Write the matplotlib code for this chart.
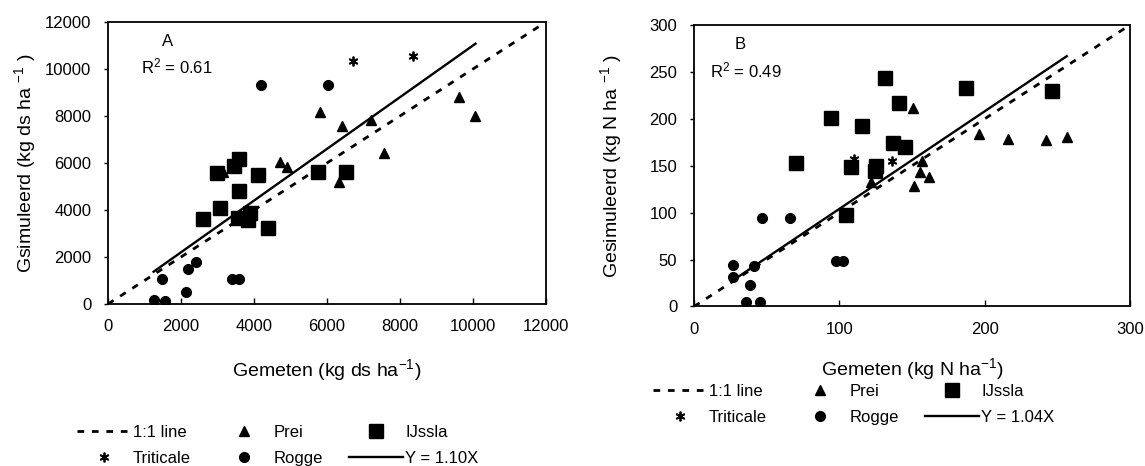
import numpy as np
import matplotlib
matplotlib.use("Agg")
import matplotlib.pyplot as plt

plt.rcParams['font.family'] = ['Liberation Sans', 'DejaVu Sans']
plt.rcParams['mathtext.fontset'] = 'custom'
plt.rcParams['mathtext.rm'] = 'Liberation Sans'
plt.rcParams['mathtext.default'] = 'regular'

# ---- panel A: dry matter (kg ds/ha) ----
a_prei_x = [5820, 6420, 7220, 7550, 4700, 4900, 6320, 9630, 10070, 3150]
a_prei_y = [8170, 7560, 7850, 6430, 6060, 5850, 5180, 8790, 8020, 5600]
a_ijssla_x = [3000, 3450, 3600, 4100, 3580, 3080, 2600, 3550, 3880, 3850, 4380, 5750, 6530]
a_ijssla_y = [5580, 5870, 6180, 5470, 4800, 4090, 3620, 3660, 3860, 3580, 3220, 5610, 5610]
a_trit_x = [6700, 8350]
a_trit_y = [10320, 10540]
a_rogge_x = [4200, 6030, 1470, 2200, 2420, 2130, 1250, 1570, 3400, 3580]
a_rogge_y = [9340, 9340, 1070, 1490, 1780, 530, 170, 140, 1070, 1070]
a_slope = 1.10
a_r2 = 0.61
a_lim = 12000

# ---- panel B: nitrogen (kg N/ha) ----
b_prei_x = [150.9, 157.1, 155.8, 162.0, 151.6, 121.8, 196.1, 216.2, 242.1, 256.5]
b_prei_y = [211.0, 154.8, 143.4, 138.1, 128.8, 132.7, 184.3, 179.0, 177.9, 180.8]
b_ijssla_x = [94.2, 115.6, 70.1, 107.9, 125.3, 124.8, 131.7, 141.4, 137.2, 145.4, 104.9, 187.4, 246.6]
b_ijssla_y = [201.4, 192.2, 153.4, 148.8, 149.5, 144.5, 243.1, 216.4, 174.7, 170.1, 97.2, 232.4, 229.9]
b_trit_x = [109.9, 136.0]
b_trit_y = [157.7, 154.8]
b_rogge_x = [46.5, 66.4, 27.1, 27.1, 41.0, 38.3, 35.8, 45.2, 97.4, 102.4]
b_rogge_y = [94.7, 94.7, 43.8, 31.3, 43.0, 22.4, 5.3, 5.3, 48.4, 48.4]
b_slope = 1.04
b_r2 = 0.49
b_lim = 300

star = (6, 2, 0)
dash = (0, (2.4, 2.8))


def panel(ax, prei_x, prei_y, ijs_x, ijs_y, tri_x, tri_y, rog_x, rog_y, slope, lim):
    one, = ax.plot([0, lim], [0, lim], color='black', lw=2, linestyle=dash, label='1:1 line')
    p, = ax.plot(prei_x, prei_y, linestyle='none', marker='^', ms=6.5, color='black', label='Prei')
    s, = ax.plot(ijs_x, ijs_y, linestyle='none', marker='s', ms=10.5, color='black', label='IJssla')
    t, = ax.plot(tri_x, tri_y, linestyle='none', marker=star, ms=7, mew=1.3, color='black', label='Triticale')
    r, = ax.plot(rog_x, rog_y, linestyle='none', marker='o', ms=7, color='black', label='Rogge')
    allx = np.concatenate([prei_x, ijs_x, tri_x, rog_x])
    xs = np.array([allx.min(), allx.max()])
    f, = ax.plot(xs, slope * xs, color='black', lw=1.7, label='Y = %.2fX' % slope)
    ax.set_xlim(0, lim)
    ax.set_ylim(0, lim)
    for sp in ax.spines.values():
        sp.set_linewidth(1.3)
    ax.tick_params(axis='x', direction='in', length=4, width=1, pad=11, labelsize=12)
    ax.tick_params(axis='y', direction='out', length=3, width=1, pad=9, labelsize=12)
    return [one, t, p, r, s, f]


fig = plt.figure(figsize=(11.45, 4.66), dpi=100)
axA = fig.add_axes([0.0943, 0.3476, 0.3825, 0.6052])
axB = fig.add_axes([0.6061, 0.3423, 0.3808, 0.6041])

hA = panel(axA, a_prei_x, a_prei_y, a_ijssla_x, a_ijssla_y, a_trit_x, a_trit_y,
           a_rogge_x, a_rogge_y, a_slope, a_lim)
hB = panel(axB, b_prei_x, b_prei_y, b_ijssla_x, b_ijssla_y, b_trit_x, b_trit_y,
           b_rogge_x, b_rogge_y, b_slope, b_lim)

axA.set_xticks(np.arange(0, 12001, 2000))
axA.set_yticks(np.arange(0, 12001, 2000))
axB.set_xticks(np.arange(0, 301, 100))
axB.set_yticks(np.arange(0, 301, 50))

axA.set_xlabel('Gemeten (kg ds ha$^{-1}$)', fontsize=14)
axA.set_ylabel('Gsimuleerd (kg ds ha $^{-1}$ )', fontsize=14)
axB.set_xlabel('Gemeten (kg N ha$^{-1}$)', fontsize=14)
axB.set_ylabel('Gesimuleerd (kg N ha $^{-1}$ )', fontsize=14)
axA.xaxis.set_label_coords(0.5, -0.234)
axB.xaxis.set_label_coords(0.5, -0.222)
axA.xaxis.label.set_va('center')
axB.xaxis.label.set_va('center')
axA.yaxis.set_label_coords(-0.19, 0.5)
axB.yaxis.set_label_coords(-0.19, 0.5)
axA.yaxis.label.set_va('center')
axB.yaxis.label.set_va('center')

axA.text(1620, 11150, 'A', fontsize=12, ha='center', va='center')
axA.text(900, 10125, 'R$^2$ = %.2f' % a_r2, fontsize=12, ha='left', va='center')
axB.text(32, 279, 'B', fontsize=12, ha='center', va='center')
axB.text(11, 252, 'R$^2$ = %.2f' % b_r2, fontsize=12, ha='left', va='center')

leg_kw = dict(ncol=3, loc='upper left', frameon=False, fontsize=12, borderpad=0,
              borderaxespad=0, handlelength=3.2, handletextpad=0.15,
              columnspacing=1.6, labelspacing=0.68, numpoints=1)
fig.legend(handles=hA, bbox_to_anchor=(0.0672, 0.088), **leg_kw)
fig.legend(handles=hB, bbox_to_anchor=(0.5703, 0.176), **leg_kw)

fig.savefig('out.png', dpi=100)
